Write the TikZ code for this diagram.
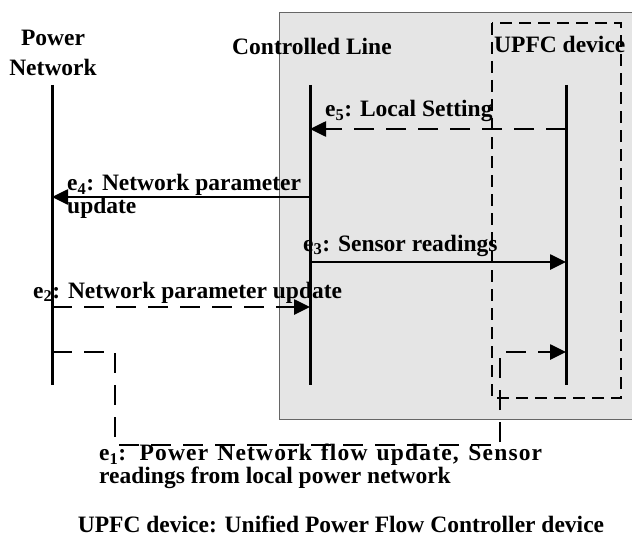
\documentclass[tikz,border=0pt]{standalone}
\usepackage{fontspec}
\setmainfont{Liberation Serif}
\usetikzlibrary{arrows.meta}

\begin{document}
\begin{tikzpicture}[x=1pt,y=-1pt,
        lifeline/.style={line width=3pt},
        msg/.style={line width=2.6pt,-{Triangle[length=16pt,width=15pt]}},
        dmsg/.style={msg,dash pattern=on 20pt off 12pt},
        lbl/.style={inner sep=0pt,font=\bfseries\fontsize{23.5}{#1}\selectfont},
        lbl/.default=23]
        \useasboundingbox (0,0) rectangle (632,543);

        % controlled line area and UPFC device
        \fill[gray!20,draw=gray!80!black,line width=1pt] (279,13) rectangle (640,419);
        \draw[line width=1.4pt,dash pattern=on 12pt off 7pt] (492,23) rectangle (621,398);

        \coordinate (pn) at (52,85);
        \coordinate (cl) at (310,85);
        \coordinate (up) at (566,85);
        \foreach \l in {pn,cl,up}
            \draw[lifeline] (\l) -- ++(0,300) coordinate (\l end);

        \foreach \y/\n in {129/5,197/4,262/3,307/2,352/1}
            \coordinate (y\n) at (0,\y);
        \coordinate (bend1) at (115,445);
        \coordinate (bend2) at (500,445);

        \node[lbl=29,anchor=base,align=center] (pntxt) at (53,75) {Power\\Network};
        \node[lbl,anchor=base] (cltxt) at (312,55) {Controlled Line};
        \node[lbl,anchor=base west] (uptxt) at (494,53) {UPFC device};

        \draw[dmsg] (up|-y5) -- (cl|-y5);
        \draw[msg] (cl|-y4) -- (pn|-y4);
        \draw[msg] (cl|-y3) -- (up|-y3);
        \draw[dmsg] (pn|-y2) -- (cl|-y2);
        \draw[dmsg] (pn|-y1) -| (bend1) -- (bend2) |- (up|-y1);

        \node[lbl,anchor=base west] (e5txt) at (325,117) {e\textsubscript{5}: Local Setting};
        \node[lbl=21,anchor=base west,align=left] (e4txt) at (67,213) {e\textsubscript{4}: Network parameter\\update};
        \node[lbl,anchor=base west] (e3txt) at (303,251) {e\textsubscript{3}: Sensor readings};
        \node[lbl,anchor=base west] (e2txt) at (33,298) {e\textsubscript{2}: Network parameter update};
        \node[lbl=19,anchor=base west,align=left] (e1txt) at (99,483)
            {\makebox[443pt][s]{\addfontfeature{LetterSpace=5}e\textsubscript{1}: Power Network flow update, Sensor}\\readings from local power network};

        \node[lbl,anchor=base] (foot) at (341,532) {UPFC device: Unified Power Flow Controller device};
    \end{tikzpicture}
\end{document}
